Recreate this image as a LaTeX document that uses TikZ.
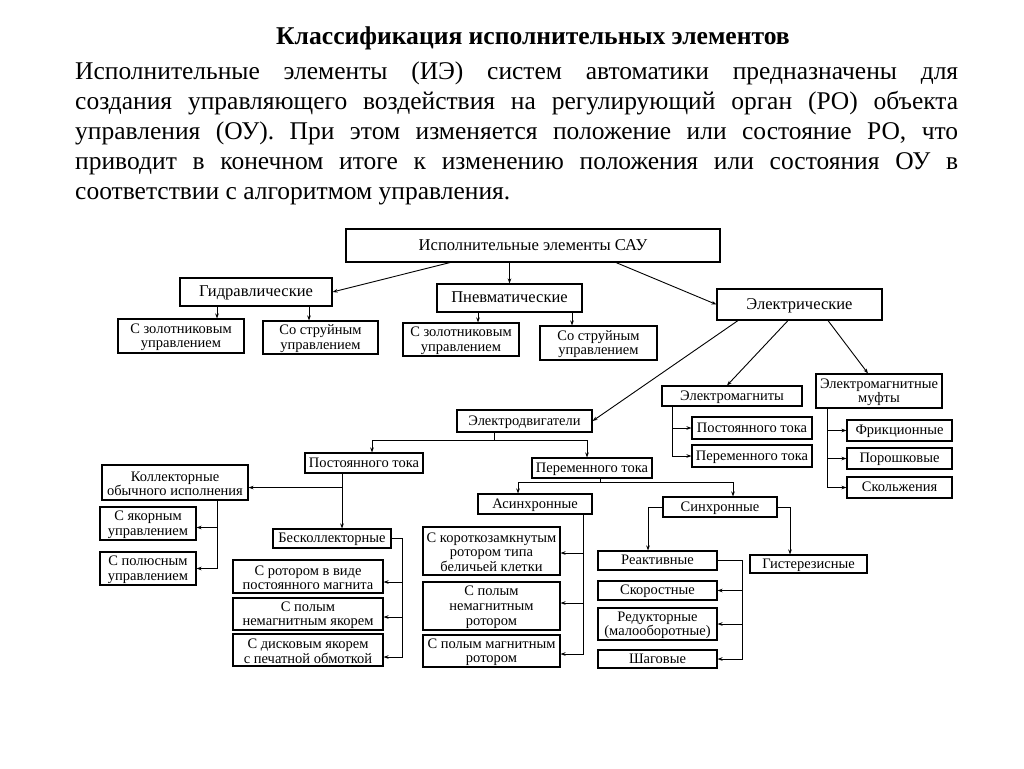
\documentclass[tikz,border=0pt]{standalone}
\usepackage{fontspec}
\setmainfont{Liberation Serif}
\usetikzlibrary{arrows.meta,calc}
\newcommand\fst{\rule{0pt}{12pt}}
\begin{document}
\begin{tikzpicture}[x=1pt,y=-1pt,
  box/.style={draw, line width=1.1pt, inner sep=1pt, align=center, font=\fontsize{14.5}{14.6}\selectfont},
  one/.style={text height=11pt, text depth=3pt},
  bigbox/.style={box, text height=12.5pt, text depth=3.3pt, font=\fontsize{16.5}{17}\selectfont},
  conn/.style={line width=0.9pt},
  arr/.style={conn, -{Stealth[length=5pt,width=3.6pt]}},
  txt/.style={inner sep=0pt, anchor=base west, font=\fontsize{25.5}{30}\selectfont}]
\fill[white] (0,0) rectangle (1024,768);
\useasboundingbox (0,0) rectangle (1024,768);

% heading and paragraph
\node[inner sep=0pt, anchor=base, font=\fontsize{25.6}{30}\selectfont\bfseries] (title) at (533,45) {Классификация исполнительных элементов};
\node[txt] (l1) at (75,79) {\makebox[883pt][s]{Исполнительные элементы (ИЭ) систем автоматики предназначены для}};
\node[txt] (l2) at (75,109) {\makebox[883pt][s]{создания управляющего воздействия на регулирующий орган (РО) объекта}};
\node[txt] (l3) at (75,139) {\makebox[883pt][s]{управления (ОУ). При этом изменяется положение или состояние РО, что}};
\node[txt] (l4) at (75,169) {\makebox[883pt][s]{приводит в конечном итоге к изменению положения или состояния ОУ в}};
\node[txt] (l5) at (75,199) {соответствии с алгоритмом управления.};

% level 0 / 1
\node[bigbox, minimum width=374pt, minimum height=33pt, font=\fontsize{16.6}{17}\selectfont] (root) at (533,245.5) {Исполнительные элементы САУ};
\node[bigbox, minimum width=152pt, minimum height=28pt] (hydr) at (256,292) {Гидравлические};
\node[bigbox, minimum width=145pt, minimum height=28pt] (pneu) at (509.5,298) {Пневматические};
\node[bigbox, minimum width=165pt, minimum height=31pt] (elec) at (799.5,304.5) {Электрические};

% hydraulic / pneumatic children
\node[box, minimum width=126pt, minimum height=34pt] (hz) at (181,336) {\fst С золотниковым\\управлением};
\node[box, minimum width=115pt, minimum height=33pt] (hs) at (320.5,337.5) {\fst Со струйным\\управлением};
\node[box, minimum width=116pt, minimum height=33pt] (pz) at (461,339.5) {\fst С золотниковым\\управлением};
\node[box, minimum width=117pt, minimum height=34pt] (ps) at (598.5,343) {\fst Со струйным\\управлением};

% electrical
\node[box, one, minimum width=135pt, minimum height=22pt] (motors) at (524.5,421) {Электродвигатели};
\node[box, one, minimum width=140pt, minimum height=20pt] (emag) at (732,396) {Электромагниты};
\node[box, minimum width=126pt, minimum height=34pt] (emuf) at (879,391) {\fst Электромагнитные\\муфты};
\node[box, one, minimum width=120pt, minimum height=22pt] (em1) at (752,428) {Постоянного тока};
\node[box, one, minimum width=120pt, minimum height=22pt] (em2) at (752,456) {Переменного тока};
\node[box, one, minimum width=105pt, minimum height=21pt] (mf1) at (899.5,430.5) {Фрикционные};
\node[box, one, minimum width=105pt, minimum height=21pt] (mf2) at (899.5,458.5) {Порошковые};
\node[box, one, minimum width=105pt, minimum height=21pt] (mf3) at (899.5,487.5) {Скольжения};

% motors
\node[box, one, minimum width=118pt, minimum height=20pt] (dc) at (364,463) {Постоянного тока};
\node[box, one, minimum width=120pt, minimum height=20pt] (ac) at (592,468) {Переменного тока};
\node[box, minimum width=146pt, minimum height=35pt] (kol) at (175,482.5) {\fst Коллекторные\\обычного исполнения};
\node[box, minimum width=96pt, minimum height=33pt] (ya) at (148,523.5) {\fst С якорным\\управлением};
\node[box, minimum width=96pt, minimum height=33pt] (po) at (148,568.5) {\fst С полюсным\\управлением};
\node[box, one, minimum width=118pt, minimum height=19pt] (bes) at (332,538.5) {Бесколлекторные};
\node[box, minimum width=150pt, minimum height=33pt] (b1) at (308,576.5) {\fst С ротором в виде\\постоянного магнита};
\node[box, minimum width=150pt, minimum height=32pt] (b2) at (308,614) {\fst С полым\\немагнитным якорем};
\node[box, minimum width=150pt, minimum height=32pt] (b3) at (308,650) {\fst С дисковым якорем\\с печатной обмоткой};

\node[box, one, minimum width=114pt, minimum height=20pt] (asyn) at (535,504) {Асинхронные};
\node[box, one, minimum width=114pt, minimum height=20pt] (syn) at (720,507) {Синхронные};
\node[box, minimum width=137pt, minimum height=48pt] (a1) at (491.5,551) {\fst С короткозамкнутым\\ротором типа\\беличьей клетки};
\node[box, minimum width=137pt, minimum height=48pt] (a2) at (491.5,606) {\fst С полым\\немагнитным\\ротором};
\node[box, minimum width=137pt, minimum height=32pt] (a3) at (491.5,651) {\fst С полым магнитным\\ротором};

\node[box, one, minimum width=119pt, minimum height=19pt] (r) at (657.5,560.5) {Реактивные};
\node[box, one, minimum width=117pt, minimum height=18pt] (g) at (808.5,564) {Гистерезисные};
\node[box, one, minimum width=119pt, minimum height=19pt] (s) at (657.5,590.5) {Скоростные};
\node[box, minimum width=119pt, minimum height=32pt] (red) at (657.5,624) {\fst Редукторные\\(малооборотные)};
\node[box, one, minimum width=119pt, minimum height=18pt] (sh) at (657.5,659) {Шаговые};

% connectors: level 0 -> 1
\draw[arr] ([xshift=-83pt]root.south) -- (hydr.east);
\draw[arr] (pneu.north |- root.south) -- (pneu.north);
\draw[arr] ([xshift=83pt]root.south) -- (elec.west);

% hydraulic / pneumatic
\draw[arr] ([xshift=-39pt]hydr.south) -- ([xshift=-39pt]hydr.south |- hz.north);
\draw[arr] ([xshift=53pt]hydr.south) -- ([xshift=53pt]hydr.south |- hs.north);
\draw[arr] ([xshift=-31.5pt]pneu.south) -- ([xshift=-31.5pt]pneu.south |- pz.north);
\draw[arr] ([xshift=62.5pt]pneu.south) -- ([xshift=62.5pt]pneu.south |- ps.north);

% electrical
\draw[arr] ([xshift=-61.5pt]elec.south) -- (motors.east);
\draw[arr] ([xshift=-11.5pt]elec.south) -- ([xshift=-5pt]emag.north);
\draw[arr] ([xshift=28.5pt]elec.south) -- ([xshift=-11pt]emuf.north);

\draw[arr] ([xshift=-60pt]emag.south) |- (em1.west);
\draw[arr] ([xshift=-60pt]emag.south) |- (em2.west);
\draw[arr] ([xshift=-52pt]emuf.south) |- (mf1.west);
\draw[arr] ([xshift=-52pt]emuf.south) |- (mf2.west);
\draw[arr] ([xshift=-52pt]emuf.south) |- (mf3.west);

% motors
\coordinate (mj) at ($(motors.south)+(-30.5,8)$);
\draw[conn] ([xshift=-30.5pt]motors.south) -- (mj);
\draw[arr] (mj) -| ([xshift=8pt]dc.north);
\draw[arr] (mj) -| ([xshift=-5pt]ac.north);

% DC motors
\coordinate (dcj) at ($(dc.south)+(-22,14)$);
\draw[arr] ([xshift=-22pt]dc.south) -- ([xshift=-22pt]dc.south |- bes.north);
\draw[arr] (dcj) -- (dcj -| kol.east);
\draw[arr] ([xshift=42pt]kol.south) |- ([yshift=-4pt]ya.east);
\draw[arr] ([xshift=42pt]kol.south) |- (po.east);
\coordinate (bj) at ($(bes.east)+(11,0)$);
\draw[arr] (bes.east) -- (bj) |- ([yshift=-5.5pt]b1.east);
\draw[arr] (bj) |- ([yshift=-3pt]b2.east);
\draw[arr] (bj) |- ([yshift=-7pt]b3.east);

% AC motors
\coordinate (acj) at ($(ac.south)+(8,4)$);
\draw[conn] ([xshift=8pt]ac.south) -- (acj);
\draw[arr] (acj) -| ([xshift=-17pt]asyn.north);
\draw[arr] (acj) -| ([xshift=13pt]syn.north);
\draw[arr] ([xshift=48pt]asyn.south) |- ([yshift=-2pt]a1.east);
\draw[arr] ([xshift=48pt]asyn.south) |- ([yshift=3pt]a2.east);
\draw[arr] ([xshift=48pt]asyn.south) |- ([yshift=-3pt]a3.east);

% synchronous
\draw[arr] (syn.west) -| ([xshift=-9.5pt]r.north);
\draw[arr] (syn.east) -| ([xshift=-18.5pt]g.north);
\coordinate (rj) at ($(r.east)+(25,0)$);
\draw[arr] (r.east) -- (rj) |- (s.east);
\draw[arr] (rj) |- (red.east);
\draw[arr] (rj) |- (sh.east);
\end{tikzpicture}
\end{document}
